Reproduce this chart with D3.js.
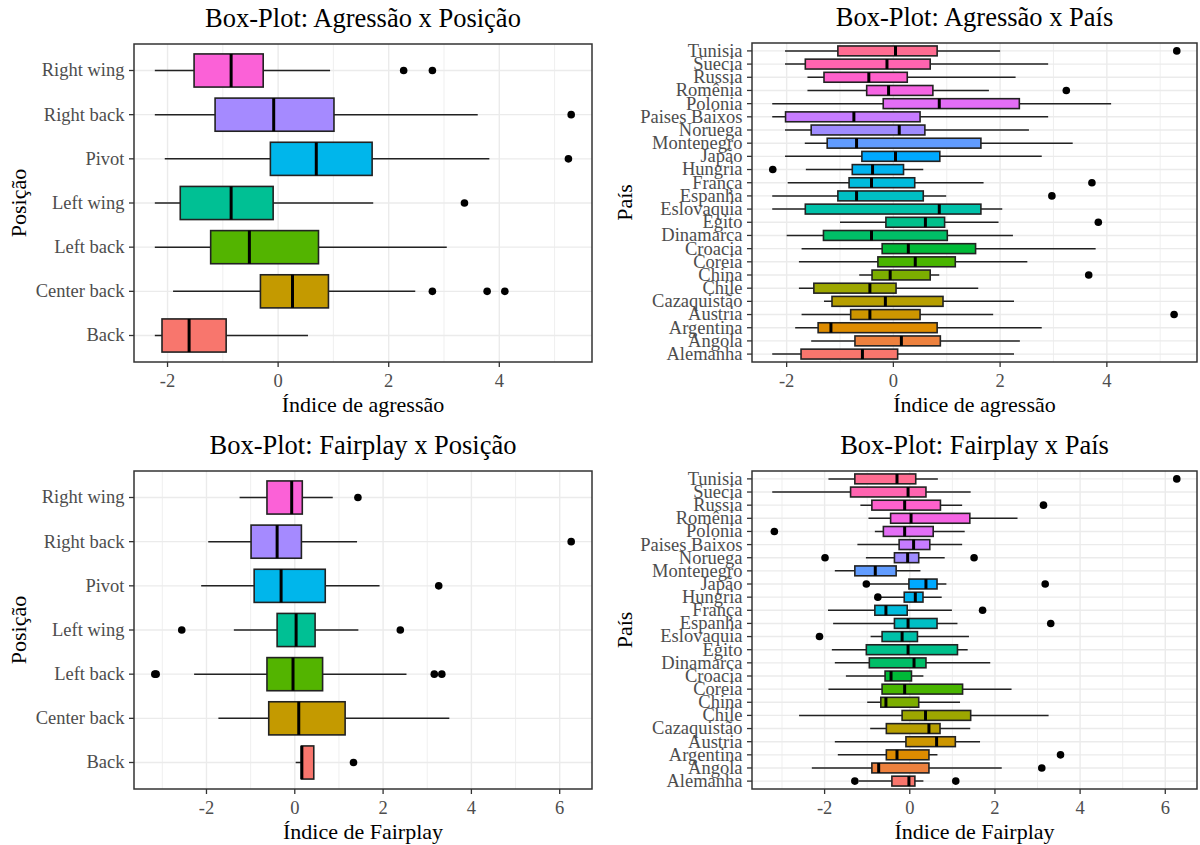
<!DOCTYPE html>
<html>
<head>
<meta charset="utf-8">
<script src="https://cdnjs.cloudflare.com/ajax/libs/d3/7.8.5/d3.min.js"></script>
<style>
body { margin: 0; background: #fff; }
text { font-family: "Liberation Serif", "Times New Roman", serif; }
</style>
</head>
<body>
<div id="chart"></div>
<script>
var posicoes = ["Back", "Center back", "Left back", "Left wing", "Pivot", "Right back", "Right wing"];
var paises = ["Alemanha", "Angola", "Argentina", "Austria", "Cazaquistão", "Chile", "China", "Coreia",
  "Croacia", "Dinamarca", "Egito", "Eslovaquia", "Espanha", "França", "Hungria", "Japão", "Montenegro",
  "Noruega", "Paises Baixos", "Polonia", "Romênia", "Russia", "Suecia", "Tunisia"];

// [whisker min, Q1, median, Q3, whisker max]
var agrPosicao = [
  [-2.23, -2.10, -1.61, -0.94, 0.54],
  [-1.90, -0.32, 0.26, 0.91, 2.48],
  [-2.23, -1.22, -0.52, 0.73, 3.05],
  [-2.23, -1.77, -0.85, -0.09, 1.72],
  [-2.05, -0.14, 0.69, 1.70, 3.82],
  [-2.23, -1.14, -0.08, 1.01, 3.61],
  [-2.23, -1.52, -0.85, -0.27, 0.94]
];
var agrPosicaoOut = [[], [2.79, 3.78, 4.10], [], [3.37], [5.25], [5.30], [2.27, 2.79]];

var agrPais = [
  [-2.27, -1.73, -0.58, 0.08, 2.26],
  [-1.54, -0.72, 0.15, 0.88, 2.37],
  [-1.84, -1.41, -1.17, 0.82, 2.78],
  [-1.72, -0.80, -0.44, 0.50, 1.87],
  [-1.30, -1.15, -0.15, 0.93, 2.26],
  [-1.77, -1.49, -0.44, 0.05, 1.59],
  [-0.64, -0.40, -0.06, 0.69, 0.86],
  [-1.77, -0.29, 0.41, 1.16, 2.51],
  [-1.72, -0.21, 0.28, 1.54, 3.79],
  [-2.00, -1.31, -0.41, 1.01, 2.24],
  [-1.00, -0.14, 0.60, 0.96, 1.97],
  [-2.27, -1.65, 0.86, 1.64, 2.04],
  [-2.27, -1.04, -0.69, 0.56, 0.99],
  [-1.98, -0.83, -0.41, 0.40, 1.69],
  [-1.64, -0.77, -0.39, 0.19, 0.56],
  [-2.03, -0.59, 0.04, 0.87, 2.78],
  [-1.66, -1.24, -0.69, 1.64, 3.36],
  [-2.03, -1.54, 0.11, 0.59, 2.54],
  [-2.27, -2.02, -0.74, 0.50, 2.90],
  [-2.27, -0.19, 0.86, 2.36, 4.08],
  [-1.61, -0.50, -0.09, 0.74, 1.79],
  [-1.61, -1.30, -0.46, 0.26, 2.29],
  [-2.03, -1.65, -0.12, 0.69, 2.90],
  [-2.03, -1.04, 0.04, 0.82, 2.00]
];
var agrPaisOut = [[], [], [], [5.26], [], [], [3.66], [], [], [], [3.84], [], [2.97], [3.72], [-2.26],
  [], [], [], [], [], [3.24], [], [], [5.31]];

var fairPosicao = [
  [0.02, 0.15, 0.16, 0.43, 0.43],
  [-1.73, -0.59, 0.09, 1.14, 3.50],
  [-2.28, -0.63, -0.04, 0.63, 2.53],
  [-1.38, -0.40, 0.03, 0.46, 1.44],
  [-2.12, -0.92, -0.31, 0.69, 1.92],
  [-1.96, -0.99, -0.40, 0.15, 1.41],
  [-1.25, -0.63, -0.07, 0.17, 0.86]
];
var fairPosicaoOut = [[1.33], [], [-3.17, -3.14, 3.16, 3.33], [-2.56, 2.39], [3.26], [6.26], [1.43]];

var fairPais = [
  [-1.20, -0.42, -0.02, 0.12, 0.32],
  [-2.30, -0.89, -0.73, 0.45, 2.16],
  [-1.69, -0.55, -0.30, 0.45, 0.65],
  [-1.76, -0.09, 0.63, 1.07, 1.65],
  [-0.93, -0.55, 0.45, 0.71, 1.42],
  [-2.60, -0.18, 0.37, 1.43, 3.26],
  [-1.00, -0.68, -0.56, 0.21, 1.18],
  [-1.91, -0.65, -0.12, 1.24, 2.39],
  [-1.50, -0.58, -0.44, 0.04, 0.32],
  [-1.76, -0.95, 0.10, 0.38, 1.89],
  [-1.83, -1.02, -0.04, 1.12, 1.36],
  [-0.92, -0.65, -0.18, 0.18, 1.39],
  [-1.80, -0.36, -0.04, 0.64, 1.12],
  [-1.92, -0.82, -0.56, -0.06, 0.99],
  [-0.68, -0.13, 0.13, 0.31, 0.75],
  [-0.98, -0.02, 0.38, 0.64, 0.86],
  [-1.76, -1.29, -0.81, -0.32, 0.25],
  [-1.03, -0.36, -0.05, 0.21, 0.82],
  [-1.23, -0.25, 0.09, 0.47, 1.23],
  [-0.82, -0.62, -0.12, 0.55, 1.29],
  [-0.97, -0.45, 0.03, 1.41, 2.53],
  [-1.16, -0.89, -0.12, 0.72, 1.23],
  [-3.23, -1.39, -0.04, 0.38, 1.43],
  [-1.91, -1.29, -0.30, 0.14, 0.66]
];
var fairPaisOut = [[-1.29, 1.08], [3.10], [3.54], [], [], [], [], [], [], [], [], [-2.12], [3.31], [1.71],
  [-0.75], [-1.02, 3.18], [], [-1.99, 1.51], [], [-3.18], [], [3.14], [], [6.27]];

var w = 1200, h = 845;
var svg = d3.select("#chart").append("svg").attr("width", w).attr("height", h);

// ggplot2 hue_pal(): hcl(h, c = 100, l = 65) in polar Luv
function huePal(n) {
  var out = [];
  for (var i = 0; i < n; i++) {
    var hh = (15 + i * 360 / n) * Math.PI / 180;
    var L = 65, U = 100 * Math.cos(hh), V = 100 * Math.sin(hh);
    var Y = Math.pow((L + 16) / 116, 3);
    var u = U / (13 * L) + 0.1978398, v = V / (13 * L) + 0.4683363;
    var X = 9 * Y * u / (4 * v);
    var Z = -X / 3 - 5 * Y + 3 * Y / v;
    var rgb = [3.240479 * X - 1.537150 * Y - 0.498535 * Z,
      -0.969256 * X + 1.875992 * Y + 0.041556 * Z,
      0.055648 * X - 0.204043 * Y + 1.057311 * Z].map(function (c) {
        c = c > 0.00304 ? 1.055 * Math.pow(c, 1 / 2.4) - 0.055 : 12.92 * c;
        return Math.round(255 * Math.max(0, Math.min(1, c)));
      });
    out.push(d3.rgb(rgb[0], rgb[1], rgb[2]).formatHex());
  }
  return out;
}

function drawPanel(p) {
  var g = svg.append("g");
  var all = [];
  p.stats.forEach(function (s, i) { all = all.concat(s, p.out[i]); });
  var lo = d3.min(all), hi = d3.max(all), pad = (hi - lo) * 0.05;
  var x = d3.scaleLinear().domain([lo - pad, hi + pad]).range([p.left, p.right]);
  var y = d3.scalePoint().domain(p.cats).range([p.bottom, p.top]).padding(0.6);
  var bw = y.step() * 0.75;
  var colors = huePal(p.cats.length);
  var major = x.ticks(5);
  var minor = d3.range(major[0] - 1, x.domain()[1], 2).filter(function (d) { return d > x.domain()[0]; });

  g.selectAll(".minor").data(minor).enter().append("line")
    .attr("x1", function (d) { return x(d); }).attr("x2", function (d) { return x(d); })
    .attr("y1", p.top).attr("y2", p.bottom)
    .attr("stroke", "#ebebeb").attr("stroke-width", 0.8);
  g.selectAll(".majorx").data(major).enter().append("line")
    .attr("x1", function (d) { return x(d); }).attr("x2", function (d) { return x(d); })
    .attr("y1", p.top).attr("y2", p.bottom)
    .attr("stroke", "#ebebeb").attr("stroke-width", 1.4);
  g.selectAll(".majory").data(p.cats).enter().append("line")
    .attr("x1", p.left).attr("x2", p.right)
    .attr("y1", function (d) { return y(d); }).attr("y2", function (d) { return y(d); })
    .attr("stroke", "#ebebeb").attr("stroke-width", 1.4);

  var box = g.selectAll(".box").data(p.stats).enter().append("g");
  box.append("line")
    .attr("x1", function (d) { return x(d[0]); }).attr("x2", function (d) { return x(d[4]); })
    .attr("y1", function (d, i) { return y(p.cats[i]); }).attr("y2", function (d, i) { return y(p.cats[i]); })
    .attr("stroke", "#222").attr("stroke-width", 1.5);
  box.append("rect")
    .attr("x", function (d) { return x(d[1]); })
    .attr("width", function (d) { return x(d[3]) - x(d[1]); })
    .attr("y", function (d, i) { return y(p.cats[i]) - bw / 2; })
    .attr("height", bw)
    .attr("fill", function (d, i) { return colors[i]; })
    .attr("stroke", "#222").attr("stroke-width", 1.6);
  box.append("line")
    .attr("x1", function (d) { return x(d[2]); }).attr("x2", function (d) { return x(d[2]); })
    .attr("y1", function (d, i) { return y(p.cats[i]) - bw / 2; })
    .attr("y2", function (d, i) { return y(p.cats[i]) + bw / 2; })
    .attr("stroke", "#000").attr("stroke-width", 3);

  var pts = [];
  p.out.forEach(function (o, i) { o.forEach(function (v) { pts.push([v, p.cats[i]]); }); });
  g.selectAll(".out").data(pts).enter().append("circle")
    .attr("cx", function (d) { return x(d[0]); })
    .attr("cy", function (d) { return y(d[1]); })
    .attr("r", 3.8).attr("fill", "#000");

  g.append("rect").attr("x", p.left).attr("y", p.top)
    .attr("width", p.right - p.left).attr("height", p.bottom - p.top)
    .attr("fill", "none").attr("stroke", "#333").attr("stroke-width", 1.5);

  // ticks and labels
  g.selectAll(".xt").data(major).enter().append("line")
    .attr("x1", function (d) { return x(d); }).attr("x2", function (d) { return x(d); })
    .attr("y1", p.bottom).attr("y2", p.bottom + 5)
    .attr("stroke", "#333").attr("stroke-width", 1.3);
  g.selectAll(".xl").data(major).enter().append("text")
    .attr("x", function (d) { return x(d); }).attr("y", p.bottom + 12).attr("dy", "0.71em")
    .attr("text-anchor", "middle").attr("fill", "#4d4d4d").style("font-size", "18.5px")
    .text(function (d) { return String(d); });
  g.selectAll(".yt").data(p.cats).enter().append("line")
    .attr("x1", p.left - 5).attr("x2", p.left)
    .attr("y1", function (d) { return y(d); }).attr("y2", function (d) { return y(d); })
    .attr("stroke", "#333").attr("stroke-width", 1.3);
  g.selectAll(".yl").data(p.cats).enter().append("text")
    .attr("x", p.left - 9.5).attr("y", function (d) { return y(d); }).attr("dy", "0.32em")
    .attr("text-anchor", "end").attr("fill", "#4d4d4d").style("font-size", "18.5px")
    .text(function (d) { return d; });

  var cx = (p.left + p.right) / 2;
  g.append("text").attr("x", cx).attr("y", p.top - 17).attr("text-anchor", "middle")
    .style("font-size", "26.5px").attr("fill", "#000").text(p.title);
  g.append("text").attr("x", cx).attr("y", p.bottom + 50).attr("text-anchor", "middle")
    .style("font-size", "22px").attr("fill", "#000").text(p.xlab);
  g.append("text").attr("transform", "translate(" + (p.ylabX) + "," + ((p.top + p.bottom) / 2) + ") rotate(-90)")
    .attr("text-anchor", "middle").style("font-size", "22px").attr("fill", "#000").text(p.ylab);
}

drawPanel({ left: 134, right: 592, top: 44, bottom: 362, cats: posicoes, stats: agrPosicao, out: agrPosicaoOut,
  title: "Box-Plot: Agressão x Posição", xlab: "Índice de agressão", ylab: "Posição", ylabX: 26 });
drawPanel({ left: 752, right: 1197, top: 43, bottom: 362, cats: paises, stats: agrPais, out: agrPaisOut,
  title: "Box-Plot: Agressão x País", xlab: "Índice de agressão", ylab: "País", ylabX: 632 });
drawPanel({ left: 134, right: 592, top: 471, bottom: 789, cats: posicoes, stats: fairPosicao, out: fairPosicaoOut,
  title: "Box-Plot: Fairplay x Posição", xlab: "Índice de Fairplay", ylab: "Posição", ylabX: 26 });
drawPanel({ left: 752, right: 1197, top: 471, bottom: 789, cats: paises, stats: fairPais, out: fairPaisOut,
  title: "Box-Plot: Fairplay x País", xlab: "Índice de Fairplay", ylab: "País", ylabX: 632 });
</script>
</body>
</html>
